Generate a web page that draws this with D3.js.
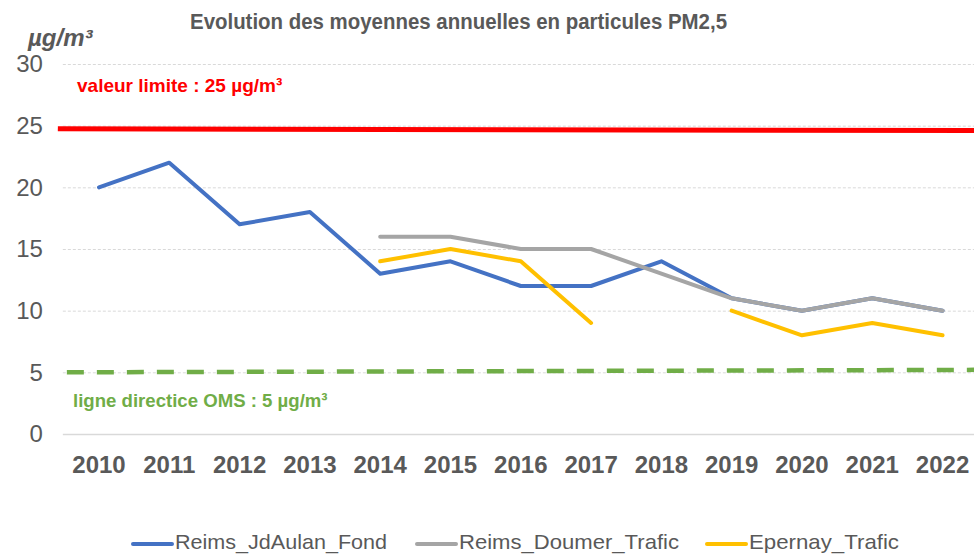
<!DOCTYPE html>
<html>
<head>
<meta charset="utf-8">
<script src="https://cdn.jsdelivr.net/npm/d3@7"></script>
<style>
  body { margin: 0; background: #fff; }
  svg { display: block; }
</style>
</head>
<body>
<div id="chart"></div>
<script>
var years = ["2010", "2011", "2012", "2013", "2014", "2015", "2016", "2017", "2018", "2019", "2020", "2021", "2022"];
var yTicks = [0, 5, 10, 15, 20, 25, 30];

var jdAulan = [20, 22, 17, 18, 13, 14, 12, 12, 14, 11, 10, 11, 10];
var doumer = [null, null, null, null, 16, 16, 15, 15, 13, 11, 10, 11, 10];
var epernay = [null, null, null, null, 14, 15, 14, 9, null, 10, 8, 9, 8];

// reference lines, value at left end and at right end
var limite = [24.75, 24.6];
var oms = [5.0, 5.2];

var seriesNames = ["Reims_JdAulan_Fond", "Reims_Doumer_Trafic", "Epernay_Trafic"];
var seriesColors = ["#4472c4", "#a5a5a5", "#ffc000"];

var W = 974, H = 555;
var margin = { top: 64, left: 63.85, bottom: 121 },
  plotRight = 977.7,
  height = H - margin.top - margin.bottom;

var svg = d3.select("#chart").append("svg")
  .attr("width", W)
  .attr("height", H)
  .style("font-family", "'Liberation Sans', Arial, sans-serif");

var x = d3.scaleBand().domain(years).range([margin.left, plotRight]);
var y = d3.scaleLinear().domain([0, 30]).range([margin.top + height, margin.top]);

// gridlines
var yAxis = d3.axisLeft(y).tickValues(yTicks).tickSize(-(plotRight - margin.left)).tickPadding(20);
var gy = svg.append("g")
  .attr("transform", "translate(" + (margin.left - 1) + ",0)")
  .call(yAxis);
gy.select(".domain").remove();
gy.selectAll(".tick line")
  .attr("stroke", "#d9d9d9")
  .attr("stroke-dasharray", function(d) { return d === 0 ? null : "3,2"; })
  .attr("stroke-width", function(d) { return d === 0 ? 1.5 : 1; });
gy.selectAll(".tick text")
  .attr("fill", "#595959")
  .style("font-size", "24px");

var xAxis = d3.axisBottom(x).tickSize(0).tickPadding(22);
var gx = svg.append("g")
  .attr("transform", "translate(0," + y(0) + ")")
  .call(xAxis);
gx.select(".domain").remove();
gx.selectAll(".tick text")
  .attr("fill", "#595959")
  .style("font-size", "24px")
  .style("font-weight", "bold");

// limit lines
var lineEnds = [margin.left - 6, W];
svg.append("line")
  .attr("x1", lineEnds[0]).attr("x2", lineEnds[1])
  .attr("y1", y(limite[0])).attr("y2", y(limite[1]))
  .attr("stroke", "#ff0000")
  .attr("stroke-width", 5);

svg.append("line")
  .attr("x1", lineEnds[0] + 9).attr("x2", lineEnds[1])
  .attr("y1", y(oms[0])).attr("y2", y(oms[1]))
  .attr("stroke", "#70ad47")
  .attr("stroke-width", 4.5)
  .attr("stroke-dasharray", "17,13");

// data lines
var line = d3.line()
  .defined(function(d) { return d != null; })
  .x(function(d, i) { return x(years[i]) + x.bandwidth() / 2; })
  .y(function(d) { return y(d); });

[jdAulan, doumer, epernay].forEach(function(s, i) {
  svg.append("path")
    .datum(s)
    .attr("fill", "none")
    .attr("stroke", seriesColors[i])
    .attr("stroke-width", 4)
    .attr("stroke-linejoin", "round")
    .attr("stroke-linecap", "round")
    .attr("d", line);
});

// texts
svg.append("text")
  .attr("x", 190).attr("y", 29)
  .attr("fill", "#595959")
  .attr("textLength", 537)
  .attr("lengthAdjust", "spacingAndGlyphs")
  .style("font-weight", "bold")
  .style("font-size", "22px")
  .text("Evolution des moyennes annuelles en particules PM2,5");

svg.append("text")
  .attr("x", 28).attr("y", 46)
  .attr("fill", "#595959")
  .style("font-weight", "bold")
  .style("font-style", "italic")
  .style("font-size", "24px")
  .text("µg/m³");

svg.append("text")
  .attr("x", 77).attr("y", 92)
  .attr("fill", "#ff0000")
  .style("font-weight", "bold")
  .style("font-size", "19px")
  .text("valeur limite : 25 µg/m³");

svg.append("text")
  .attr("x", 73).attr("y", 407)
  .attr("fill", "#70ad47")
  .style("font-weight", "bold")
  .style("font-size", "18.6px")
  .text("ligne directice OMS : 5 µg/m³");

// legend
var legendX = [133, 417, 707];
var legendW = [212, 220, 150];
var lg = svg.append("g").selectAll("g")
  .data(seriesNames)
  .enter().append("g")
  .attr("transform", function(d, i) { return "translate(" + legendX[i] + "," + 544 + ")"; });
lg.append("line")
  .attr("x1", 0).attr("x2", 39)
  .attr("stroke", function(d, i) { return seriesColors[i]; })
  .attr("stroke-width", 4)
  .attr("stroke-linecap", "round");
lg.append("text")
  .attr("x", 42).attr("y", 5)
  .attr("fill", "#595959")
  .attr("textLength", function(d, i) { return legendW[i]; })
  .attr("lengthAdjust", "spacingAndGlyphs")
  .style("font-size", "21px")
  .text(function(d) { return d; });
</script>
</body>
</html>
